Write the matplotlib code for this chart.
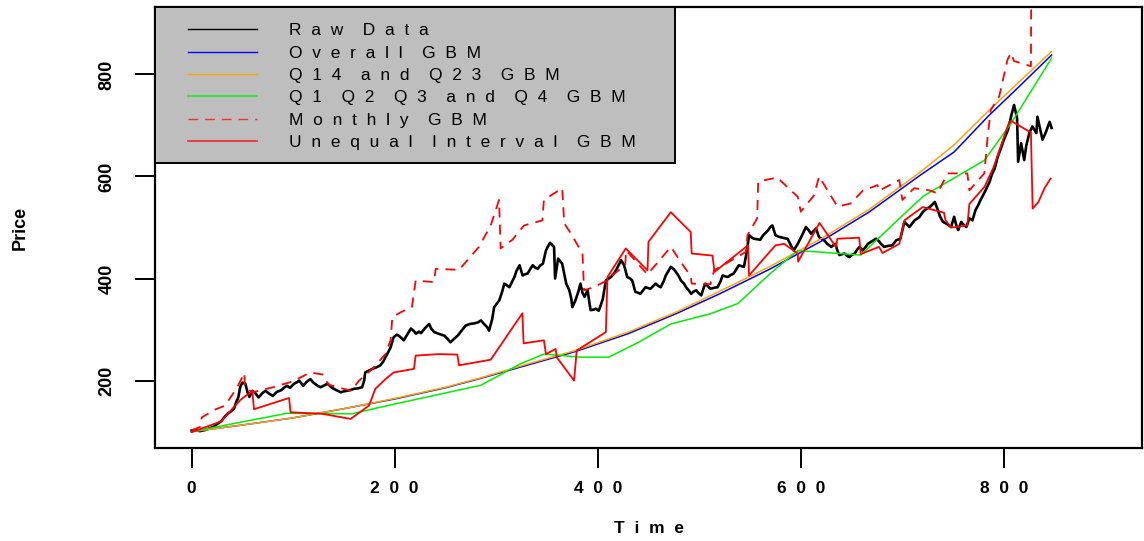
import matplotlib
matplotlib.use("Agg")
import matplotlib.pyplot as plt
from matplotlib.lines import Line2D
from matplotlib.patches import Rectangle

plt.rcParams['font.family'] = ['Liberation Sans', 'DejaVu Sans']

# ---------------- data ----------------
raw_time = [0, 4, 8, 13, 17, 22, 26, 29, 33, 36,
            39, 42, 44, 46, 48, 50, 53, 55, 57, 60,
            63, 66, 70, 73, 76, 80, 84, 88, 91, 94,
            97, 101, 104, 106, 110, 113, 117, 120, 122, 125,
            127, 131, 134, 137, 140, 144, 147, 150, 153, 157,
            160, 164, 168, 170, 171, 175, 178, 182, 186, 189,
            191, 194, 196, 199, 202, 204, 207, 209, 213, 216,
            219, 221, 224, 226, 230, 234, 236, 239, 243, 246,
            249, 252, 255, 258, 262, 266, 270, 274, 278, 282,
            285, 288, 291, 293, 296, 298, 303, 306, 308, 311,
            313, 316, 318, 320, 323, 326, 328, 331, 334, 336,
            338, 341, 343, 346, 349, 351, 353, 355, 357, 358,
            361, 363, 365, 367, 369, 372, 374, 375, 378, 381,
            383, 385, 387, 390, 392, 393, 396, 398, 401, 403,
            405, 408, 410, 413, 416, 418, 421, 423, 426, 429,
            432, 434, 437, 440, 442, 445, 447, 450, 452, 455,
            457, 460, 462, 465, 467, 470, 472, 475, 477, 480,
            482, 485, 487, 490, 492, 494, 497, 499, 502, 504,
            506, 509, 511, 515, 518, 521, 523, 526, 528, 531,
            534, 537, 539, 542, 544, 547, 549, 552, 554, 557,
            560, 563, 566, 568, 570, 572, 575, 578, 580, 584,
            587, 590, 593, 597, 600, 602, 605, 608, 610, 613,
            615, 618, 621, 623, 626, 630, 634, 636, 638, 641,
            643, 646, 648, 650, 653, 656, 658, 661, 664, 666,
            670, 674, 677, 679, 682, 686, 690, 694, 698, 702,
            705, 707, 710, 712, 715, 717, 720, 722, 725, 727,
            730, 732, 735, 737, 740, 743, 746, 748, 751, 753,
            755, 758, 760, 763, 766, 769, 772, 775, 777, 780,
            782, 786, 788, 791, 794, 797, 800, 804, 807, 810,
            813, 814, 817, 820, 822, 825, 828, 832, 833, 836,
            838, 841, 845, 847]
raw_price = [102, 104, 101, 103, 106, 110, 116, 120, 130, 136,
             140, 146, 158, 167, 188, 196, 194, 178, 168, 180,
             175, 167, 176, 180, 175, 170, 178, 181, 186, 190,
             186, 194, 197, 200, 190, 197, 203, 196, 193, 189,
             187, 191, 194, 188, 184, 180, 177, 179, 180, 182,
             184, 185, 187, 200, 216, 220, 223, 226, 230, 238,
             246, 257, 265, 285, 290, 288, 283, 279, 292, 302,
             297, 292, 296, 293, 303, 311, 302, 295, 292, 290,
             288, 282, 275, 281, 288, 298, 308, 311, 312, 314,
             318, 311, 305, 298, 320, 344, 357, 375, 390, 386,
             383, 395, 403, 415, 426, 406, 408, 410, 420, 426,
             422, 419, 425, 429, 455, 463, 470, 466, 462, 400,
             439, 434, 429, 410, 390, 377, 360, 344, 357, 375,
             390, 372, 364, 377, 350, 338, 339, 341, 337, 348,
             360, 396, 399, 403, 410, 416, 428, 436, 426, 403,
             400, 396, 374, 372, 370, 378, 383, 381, 380, 386,
             390, 385, 383, 395, 406, 416, 423, 418, 413, 404,
             396, 390, 383, 376, 370, 374, 377, 372, 367, 380,
             390, 384, 380, 382, 383, 395, 406, 404, 403, 407,
             410, 420, 426, 424, 423, 455, 485, 480, 478, 477,
             476, 485, 491, 495, 501, 504, 485, 482, 481, 479,
             478, 466, 455, 468, 480, 488, 501, 494, 488, 494,
             498, 481, 477, 475, 468, 462, 468, 455, 446, 448,
             449, 444, 442, 446, 449, 458, 462, 455, 462, 468,
             473, 478, 473, 468, 462, 464, 465, 475, 478, 511,
             505, 501, 509, 514, 518, 521, 530, 534, 538, 540,
             546, 550, 534, 522, 511, 508, 504, 501, 521, 505,
             495, 511, 506, 501, 518, 514, 534, 545, 554, 565,
             573, 590, 603, 616, 639, 655, 672, 691, 717, 740,
             714, 629, 665, 632, 660, 685, 698, 685, 717, 690,
             672, 685, 707, 695]

overall_time = [0, 50, 100, 150, 200, 250, 284, 330, 378, 430,
                477, 520, 570, 620, 667, 718, 751, 784, 817, 847]
overall_price = [100, 113, 127, 145, 164, 186, 204, 230, 257, 292,
                 331, 370, 419, 473, 530, 603, 648, 717, 780, 838]

q14_time = [0, 50, 100, 150, 200, 250, 284, 330, 378, 430,
            477, 520, 570, 620, 667, 718, 751, 784, 817, 847]
q14_price = [100, 113, 127, 145, 165, 187, 205, 232, 259, 295,
             334, 375, 424, 478, 535, 609, 662, 727, 789, 845]

quarter_time = [0, 94, 158, 186, 285, 324, 347, 383, 411, 440,
                472, 511, 538, 570, 597, 659, 702, 721, 764, 781,
                807, 847]
quarter_price = [100, 136, 135, 148, 191, 233, 252, 246, 246, 275,
                 311, 331, 351, 410, 455, 446, 527, 562, 612, 632,
                 704, 832]

monthly_time = [0, 9, 10, 24, 33, 45, 52, 52.5, 60, 80,
                99, 117, 129, 135, 157, 165, 178, 191, 196, 197.7,
                206, 217, 220.7, 238.7, 240.4, 263.4, 273, 283, 294.6, 302.8,
                304.4, 316, 327.4, 345.5, 347, 365, 367, 373, 385, 386.5,
                396, 408, 416, 427, 428, 449, 472, 485, 491.6, 492.5,
                511, 514.6, 545.8, 547.5, 557, 558, 576.7, 588.5, 597, 600,
                613, 618, 636, 649, 661, 675.5, 677, 697, 700, 711.6,
                726, 734.6, 744.5, 764, 766, 780.7, 784, 787, 795.4, 803.6,
                807, 810, 826.6, 827, 847]
monthly_price = [102, 110, 128, 144, 151, 187, 215, 187, 177, 187,
                 198, 216, 212, 192, 180, 200, 223, 252, 279, 324,
                 334, 344, 396, 393, 419, 417, 439, 462, 504, 554,
                 459, 476, 504, 514, 554, 577, 508, 490, 449, 377,
                 383, 395, 409, 426, 455, 408, 462, 423, 405, 390,
                 389, 416, 452, 485, 518, 590, 598, 576, 560, 531,
                 563, 600, 541, 547, 572, 583, 572, 593, 554, 577,
                 573, 567, 606, 606, 573, 606, 678, 730, 757, 829,
                 842, 826, 816, 1000, 1030]

unequal_time = [0, 29, 48, 59.8, 61.5, 96, 97.5, 128.7, 156.6, 174.7,
                181, 191, 199, 219, 220.7, 243.6, 261.7, 263.4, 294.6, 325.8,
                327, 347, 349, 358.6, 359.6, 376.7, 379.3, 408, 409.6, 427.6,
                449, 450, 472, 491.6, 492.5, 513, 515, 548, 549, 575,
                583.6, 597, 597.3, 618.4, 634.5, 636, 657.5, 659, 677, 680.5,
                697, 702, 720, 741, 742.5, 748, 764, 766, 781, 790,
                804, 807, 826.6, 828.3, 834, 840, 846]
unequal_price = [99, 120, 162, 180, 144, 166, 138, 135, 125, 151,
                 184, 203, 216, 223, 249, 252, 251, 230, 241, 332,
                 273, 279, 252, 262, 246, 200, 259, 295, 403, 459,
                 416, 472, 530, 491, 449, 445, 413, 465, 406, 465,
                 468, 449, 433, 509, 462, 478, 480, 448, 462, 450,
                 468, 514, 540, 529, 514, 500, 504, 546, 580, 619,
                 700, 709, 686, 537, 550, 577, 596]

x_ticks = [0, 200, 400, 600, 800]
y_ticks = [200, 400, 600, 800]
legend_labels = ["Raw Data", "Overall GBM", "Q14 and Q23 GBM",
                 "Q1 Q2 Q3 and Q4 GBM", "Monthly GBM", "Unequal Interval GBM"]


def spaced(text):
    """Wide letter-spaced rendering of a label."""
    return "    ".join("  ".join(word) for word in text.split(" "))


# ---------------- figure ----------------
W, H = 1144, 541
fig = plt.figure(figsize=(W / 100, H / 100), dpi=100)
ax = fig.add_axes([155 / W, 1 - 448 / H, 987 / W, 441 / H])

ax.plot(raw_time, raw_price, color="black", lw=1.9, zorder=2)
ax.plot(overall_time, overall_price, color="blue", lw=1.1, zorder=3)
ax.plot(q14_time, q14_price, color="orange", lw=1.1, zorder=3)
ax.plot(quarter_time, quarter_price, color="#00ee00", lw=1.1, zorder=3)
ax.plot(monthly_time, monthly_price, color="red", lw=1.3,
        linestyle=(0, (5.5, 4.0)), zorder=4)
ax.plot(unequal_time, unequal_price, color="red", lw=1.3, zorder=4)

ax.set_xlim(-36, 936)
ax.set_ylim(68, 932)

ax.set_xticks(x_ticks)
ax.set_xticklabels([spaced(str(v)) for v in x_ticks],
                   fontsize=12.5, fontweight="bold")
ax.set_yticks(y_ticks)
ax.set_yticklabels([str(v) for v in y_ticks], fontsize=13,
                   fontweight="bold", rotation=90, va="center")
ax.tick_params(axis="both", direction="out", length=14.5, width=1.4,
               color="black")
ax.tick_params(axis="x", pad=9)
ax.tick_params(axis="y", pad=14)

for sp in ax.spines.values():
    sp.set_linewidth(1.6)
    sp.set_color("black")

ax.set_xlabel(spaced("Time"), fontsize=12.5, fontweight="bold", labelpad=18)
ax.set_ylabel("Price", fontsize=13, fontweight="bold", labelpad=50)

# legend panel
ax.add_patch(Rectangle((0, 1 - 156 / 441), 520 / 987, 156 / 441,
                       transform=ax.transAxes, facecolor="#bebebe",
                       edgecolor="black", lw=1.4, zorder=8, clip_on=False))
handles = [
    Line2D([], [], color="black", lw=1.0),
    Line2D([], [], color="blue", lw=1.0),
    Line2D([], [], color="orange", lw=1.0),
    Line2D([], [], color="#33dd33", lw=1.3),
    Line2D([], [], color="#ee3333", lw=1.0, linestyle=(0, (7, 5))),
    Line2D([], [], color="#ee3333", lw=1.3),
]
leg = ax.legend(handles, [spaced(s) for s in legend_labels],
                loc="upper left", bbox_to_anchor=(33 / 987, 1 - 16 / 441),
                frameon=False, borderpad=0, borderaxespad=0,
                handlelength=4.0, handletextpad=1.8, labelspacing=0.42,
                fontsize=12.5)
leg.set_zorder(9)

fig.savefig("out.png", dpi=100)
